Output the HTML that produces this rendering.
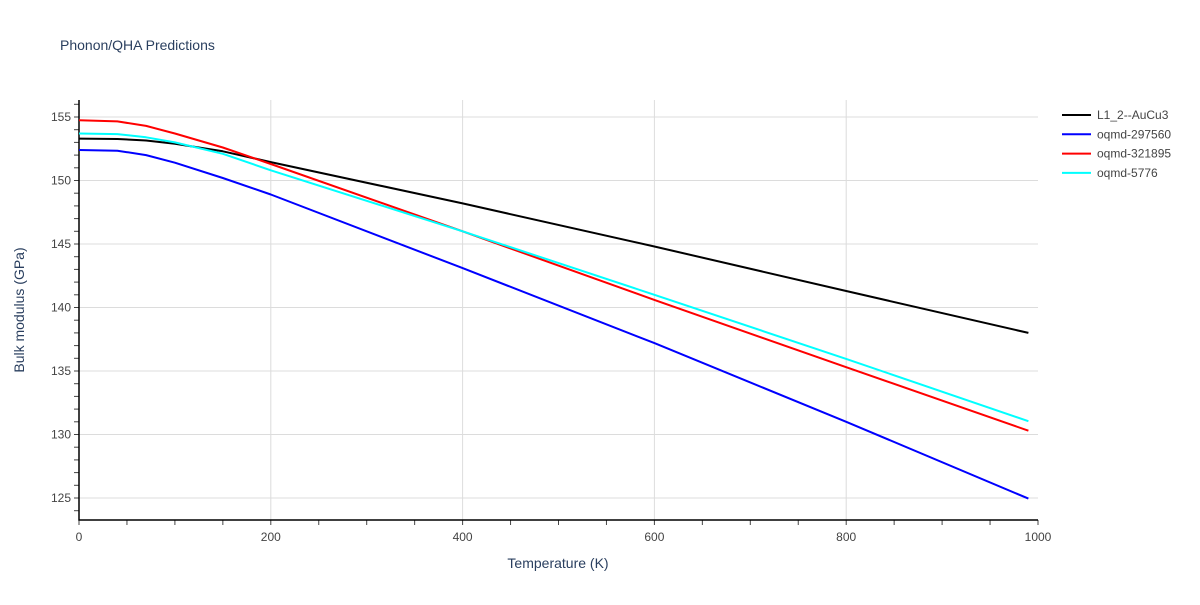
<!DOCTYPE html>
<html><head><meta charset="utf-8"><style>
body{margin:0;background:#fff;font-family:"Liberation Sans",sans-serif}
text{font-family:"Liberation Sans",sans-serif;fill:#444}
</style></head><body>
<svg id="chart" width="1200" height="600" xmlns="http://www.w3.org/2000/svg">
<text x="60" y="50" font-size="14" style="fill:#2a3f5f">Phonon/QHA Predictions</text>
<g id="grid"></g><g id="axes"></g><g id="series"></g><g id="legend"></g>
<text x="558" y="568" font-size="14" text-anchor="middle" style="fill:#2a3f5f">Temperature (K)</text>
<text transform="translate(24,310) rotate(-90)" font-size="14" text-anchor="middle" style="fill:#2a3f5f">Bulk modulus (GPa)</text>
</svg>
<script>
const temps=[0,40,70,100,150,200,400,600,800,990];
const seriesNames=["L1_2--AuCu3","oqmd-297560","oqmd-321895","oqmd-5776"];
const seriesColors=["#000000","#0000ff","#ff0000","#00ffff"];
const blackVals=[153.3,153.27,153.15,152.9,152.3,151.45,148.2,144.8,141.3,138.0];
const blueVals=[152.4,152.35,152.0,151.4,150.2,148.9,143.1,137.2,131.0,124.95];
const redVals=[154.75,154.65,154.3,153.7,152.6,151.3,146.0,140.6,135.3,130.3];
const cyanVals=[153.7,153.65,153.4,153.0,152.1,150.8,146.0,141.0,135.95,131.05];
const xTicks=[0,200,400,600,800,1000];
const yTicks=[125,130,135,140,145,150,155];
const NS="http://www.w3.org/2000/svg";
const X0=79,X1=1038,YT=100,YB=520;
const xs=t=>X0+t*(X1-X0)/1000;
const ys=v=>117+(155-v)*12.7;
function mk(tag,parent,attrs){const e=document.createElementNS(NS,tag);for(const k in attrs)e.setAttribute(k,attrs[k]);document.getElementById(parent).appendChild(e);return e;}
xTicks.forEach(t=>{
 if(t>0&&t<1000){const l=mk('line','grid',{x1:xs(t),x2:xs(t),y1:YT,y2:YB,stroke:'#dcdcdc'});
 
 }
 const tx=mk('text','axes',{x:xs(t),y:541,'font-size':12,'text-anchor':'middle'});tx.textContent=t;
 
 
});
for(let t=0;t<=1000;t+=50){mk('line','axes',{x1:xs(t),x2:xs(t),y1:YB,y2:YB+5,stroke:'#444'});}
yTicks.forEach(v=>{
 const l=mk('line','grid',{x1:X0,x2:X1,y1:ys(v),y2:ys(v),stroke:'#dcdcdc'});
 
 
 const tx=mk('text','axes',{x:X0-8,y:ys(v)+4,'font-size':12,'text-anchor':'end'});tx.textContent=v;
 
 
});
for(let v=124;v<=156;v++){mk('line','axes',{x1:X0-5,x2:X0,y1:ys(v),y2:ys(v),stroke:'#444'});}
const ax=mk('path','axes',{d:`M${X0},${YT}V${YB}H${X1}`,fill:'none',stroke:'#000','stroke-width':1.5});


[blackVals,blueVals,redVals,cyanVals].forEach((vals,i)=>{
 const d=vals.map((v,j)=>(j?'L':'M')+xs(temps[j]).toFixed(1)+','+ys(v).toFixed(1)).join('');
 const p=mk('path','series',{d:d,fill:'none',stroke:seriesColors[i],'stroke-width':2,'stroke-linejoin':'round'});
 
 
 const y=115+i*19.3;
 const g=mk('g','legend',{});
 
 
 const ln=document.createElementNS(NS,'line');
 ln.setAttribute('x1',1062);ln.setAttribute('x2',1091);ln.setAttribute('y1',y);ln.setAttribute('y2',y);ln.setAttribute('stroke',seriesColors[i]);ln.setAttribute('stroke-width',2);g.appendChild(ln);
 const t=document.createElementNS(NS,'text');t.setAttribute('x',1097);t.setAttribute('y',y+4);t.setAttribute('font-size',12);t.textContent=seriesNames[i];g.appendChild(t);
});
</script>
</body></html>
